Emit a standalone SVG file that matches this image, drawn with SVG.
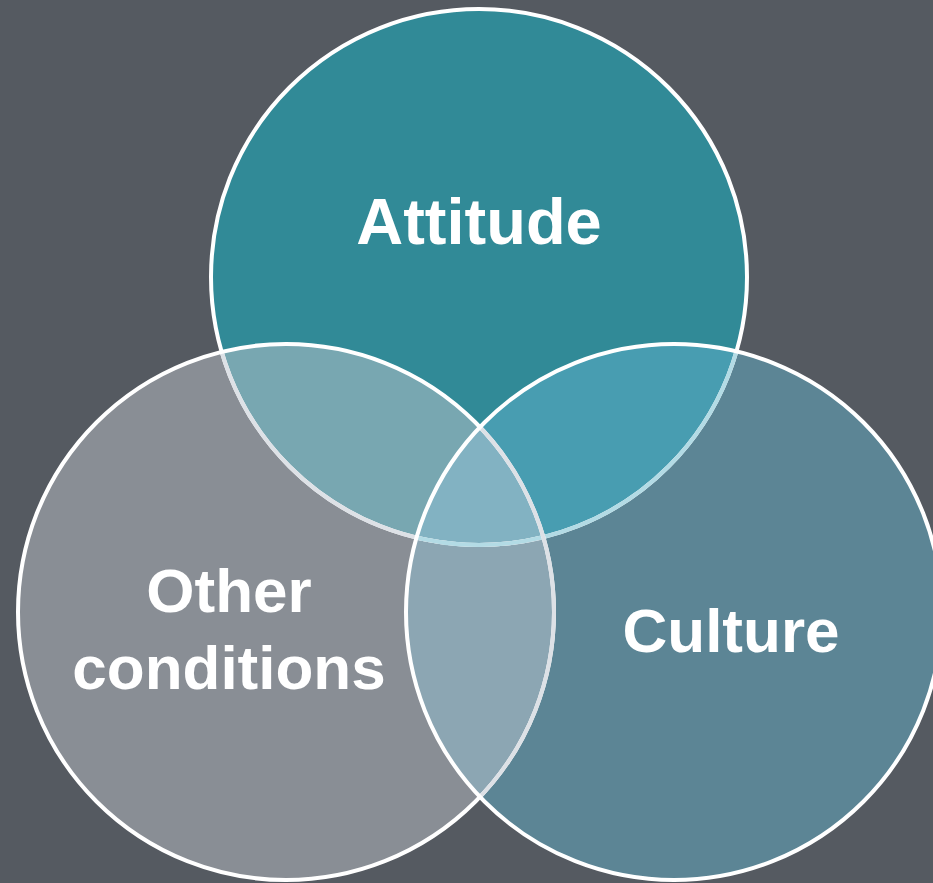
<svg xmlns="http://www.w3.org/2000/svg" width="933" height="883" viewBox="0 0 933 883">
<style>
.lbl{font-family:"Liberation Sans",Arial,sans-serif;font-weight:bold;font-size:62px;fill:#ffffff;text-anchor:middle}
.st{fill:none;stroke-width:4}
</style>
<defs>
<circle id="cT" cx="479" cy="277" r="268"/>
<circle id="cL" cx="286" cy="612" r="268"/>
<circle id="cR" cx="674" cy="612" r="268"/>
<clipPath id="clipT"><use href="#cT"/></clipPath>
<clipPath id="clipL"><use href="#cL"/></clipPath>
<clipPath id="clipR"><use href="#cR"/></clipPath>
</defs>
<rect width="933" height="883" fill="#555a61"/>
<g id="attitude">
<use href="#cT" fill="#318a97"/>
</g>
<g id="other-conditions">
<use href="#cL" fill="#898e95"/>
</g>
<g id="culture">
<use href="#cR" fill="#5c8595"/>
</g>
<g id="overlaps">
<g clip-path="url(#clipT)"><use href="#cL" fill="#78a7b1"/></g>
<g clip-path="url(#clipT)"><use href="#cR" fill="#489db1"/></g>
<g clip-path="url(#clipL)"><use href="#cR" fill="#8ca6b3"/></g>
<g clip-path="url(#clipT)"><g clip-path="url(#clipL)"><use href="#cR" fill="#82b2c2"/></g></g>
</g>
<g id="outlines">
<use href="#cT" class="st" stroke="#ffffff"/>
<g clip-path="url(#clipL)"><use href="#cT" class="st" stroke="#dde1e6"/></g>
<g clip-path="url(#clipR)"><use href="#cT" class="st" stroke="#b3dbe5"/></g>
<use href="#cL" class="st" stroke="#ffffff"/>
<g clip-path="url(#clipR)"><use href="#cL" class="st" stroke="#dde1e6"/></g>
<use href="#cR" class="st" stroke="#ffffff"/>
</g>
<g id="labels">
<text class="lbl" x="479" y="244" style="font-size:65px">Attitude</text>
<text class="lbl" x="229" y="612">Other</text>
<text class="lbl" x="229" y="689">conditions</text>
<text class="lbl" x="731" y="652">Culture</text>
</g>
</svg>
